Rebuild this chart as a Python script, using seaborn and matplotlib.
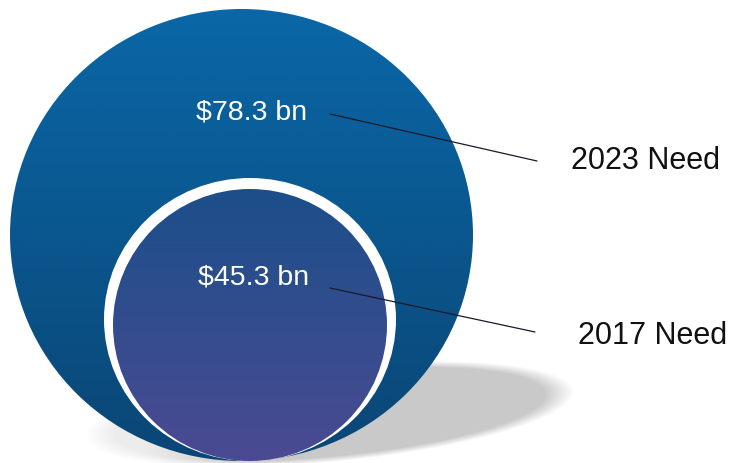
import numpy as np
import pandas as pd
import matplotlib
matplotlib.use("Agg")
import matplotlib.pyplot as plt
from matplotlib.patches import Ellipse
from matplotlib.colors import to_rgb
import seaborn as sns

# Funding need by year
years = ["2023", "2017"]
values_bn = [78.3, 45.3]
series_labels = [f"{y} Need" for y in years]
value_labels = [f"${v:.1f} bn" for v in values_bn]

sns.set_theme(style="white")
plt.rcParams["font.family"] = ["Liberation Sans", "DejaVu Sans"]

W, H = 735, 464
fig = plt.figure(figsize=(W / 100, H / 100), dpi=100)
ax = fig.add_axes([0, 0, 1, 1])

# Bubble geometry (pixel layout): larger year first
bubbles = {
    "2023": dict(cx=241.5, cy=236, rx=231.5, ry=226,
                 top="#0a67a7", bottom="#0a4675"),
    "2017": dict(cx=250, cy=326, rx=137, ry=136,
                 top="#1c4f8a", bottom="#4b4a92"),
}
ring = dict(cx=250, cy=320.5, rx=146, ry=141.5)


def gradient_ellipse(ax, cx, cy, rx, ry, top, bottom, z):
    t = np.linspace(0, 1, 256)[:, None]
    c0, c1 = np.array(to_rgb(top)), np.array(to_rgb(bottom))
    img = (c0[None, :] * (1 - t) + c1[None, :] * t)[:, None, :]
    patch = Ellipse((cx, cy), 2 * rx, 2 * ry, facecolor="none",
                    edgecolor="none", zorder=z)
    ax.add_patch(patch)
    im = ax.imshow(img, extent=(cx - rx, cx + rx, cy + ry, cy - ry),
                   origin="upper", aspect="auto", zorder=z,
                   interpolation="bilinear")
    im.set_clip_path(patch)


# Soft, slightly tilted drop shadow beneath the bubbles
gx, gy = np.meshgrid(np.arange(W) + 0.5, np.arange(H) + 0.5)
ang = np.deg2rad(5.4)
dx, dy = gx - 330, gy - 415
u = dx * np.cos(ang) - dy * np.sin(ang)
v = dx * np.sin(ang) + dy * np.cos(ang)
d = np.sqrt((u / 245) ** 2 + (v / 48) ** 2)
alpha = np.clip((1.0 - d) / 0.12, 0, 1)
fade = np.clip((u + 245) / 160, 0.35, 1.0)
shadow = np.zeros((H, W, 4))
shadow[..., :3] = 0.79
shadow[..., 3] = alpha * fade
ax.imshow(shadow, extent=(0, W, H, 0), origin="upper", zorder=1,
          interpolation="bilinear", aspect="auto")

b = bubbles["2023"]
gradient_ellipse(ax, b["cx"], b["cy"], b["rx"], b["ry"], b["top"], b["bottom"], 2)
ax.add_patch(Ellipse((ring["cx"], ring["cy"]), 2 * ring["rx"], 2 * ring["ry"],
                     facecolor="white", edgecolor="none", zorder=3))
b = bubbles["2017"]
gradient_ellipse(ax, b["cx"], b["cy"], b["rx"], b["ry"], b["top"], b["bottom"], 4)

# Value labels, leader lines and series names
label_pos = {"2023": (252, 112), "2017": (254, 278)}
leader = {"2023": ((330, 115), (537, 162)), "2017": ((330, 289), (535, 333))}
name_pos = {"2023": (571, 161), "2017": (578, 336)}

lines = []
for y in years:
    (x0, y0), (x1, y1) = leader[y]
    lines.append(pd.DataFrame({"x": [x0, x1], "y": [y0, y1], "year": y}))
lines = pd.concat(lines, ignore_index=True)
sns.lineplot(data=lines, x="x", y="y", units="year", estimator=None,
             color="#1a1a2a", linewidth=0.9, ax=ax, zorder=6, sort=False)
ax.set_xlim(0, W)
ax.set_ylim(H, 0)
ax.axis("off")

for y, vl, sl in zip(years, value_labels, series_labels):
    ax.text(*label_pos[y], vl, color="white", fontsize=20.5,
            ha="center", va="center", zorder=7)
    ax.text(*name_pos[y], sl, color="#111111", fontsize=22,
            ha="left", va="center", zorder=7)

fig.savefig("out.png", dpi=100)
